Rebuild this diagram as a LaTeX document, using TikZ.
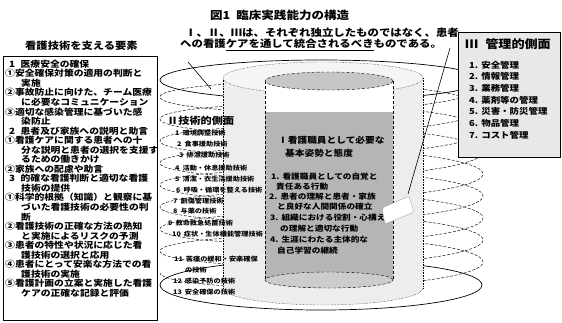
\documentclass[tikz,border=0pt]{standalone}
\usepackage{fontspec}
\newfontfamily\jp[FakeStretch=1.14]{Noto Sans CJK JP}
\newcommand\lhead[2]{\hspace*{4pt}#1\hspace*{5.5pt}#2}
\newcommand\lcont{\hspace*{16pt}}
\begin{document}
\begin{tikzpicture}[x=1pt,y=-1pt,
  jpt/.style={inner sep=0pt, anchor=west, font=\jp\bfseries\fontsize{#1}{#1}\selectfont},
  ring/.style={line width=0.7pt},
  helixline/.style={dash pattern=on 3pt off 1.6pt, line width=0.45pt},
]
\useasboundingbox (0,0) rectangle (562,322);

% outer top ellipse
\draw[ring] (321,80) ellipse[x radius=161pt, y radius=20pt];
% helix (technical aspect)
\draw[helixline] plot[domain=0:3060,samples=700,variable=\t]
  ({321.5+161.5*cos(\t)},{86+\t/360*22+20*sin(\t)});
% outer bottom ellipse back arc
\draw[ring] (160,285) arc[start angle=180,end angle=0,x radius=161pt,y radius=25pt];

% middle cylinder
\path[fill=gray!14] (223,78) -- (223,288) arc[start angle=180,end angle=360,x radius=100pt,y radius=17pt]
  -- (423,78) arc[start angle=0,end angle=180,x radius=100pt,y radius=16pt] -- cycle;
\draw[densely dotted, line width=0.6pt] (223,78) -- (223,288);
\draw[densely dotted, line width=0.6pt] (423,78) -- (423,288);
\draw[densely dotted, fill=gray!8] (323,78) ellipse[x radius=100pt, y radius=16pt];
\draw[densely dotted] (223,288) arc[start angle=180,end angle=360,x radius=100pt,y radius=17pt];

% outer bottom ellipse front arc
\draw[ring] (160,285) arc[start angle=180,end angle=360,x radius=161pt,y radius=25pt];

% inner cylinder
\path[fill=gray!58] (265,112) -- (265,280) arc[start angle=180,end angle=360,x radius=64pt,y radius=8pt]
  -- (393,112) -- cycle;
\path[fill=white] (265,81) rectangle (393,112);
\draw[densely dashed] (265,81) -- (265,280);
\draw[densely dashed] (393,81) -- (393,280);
\draw[densely dashed, fill=gray!45] (329,81) ellipse[x radius=64pt, y radius=9pt];
\draw[densely dashed, fill=gray!40] (329,280) ellipse[x radius=64pt, y radius=8pt];

% I text
\node[jpt=8.5] (i1) at (278,140) {Ⅰ看護職員として必要な};
\node[jpt=8.5] (i2) at (285,153) {基本姿勢と態度};
\node[jpt=7.6] (i3) at (271,177) {1.\hspace{3pt}看護職員としての自覚と};
\node[jpt=7.6] (i4) at (276,187) {責任ある行動};
\node[jpt=7.6] (i5) at (269,197) {2.\hspace{3pt}患者の理解と患者・家族};
\node[jpt=7.6] (i6) at (277,207) {と良好な人間関係の確立};
\node[jpt=7.6] (i7) at (270,218) {3.\hspace{3pt}組織における役割・心構え};
\node[jpt=7.6] (i8) at (280,229) {の理解と適切な行動};
\node[jpt=7.6] (i9) at (270,240) {4.\hspace{3pt}生涯にわたる主体的な};
\node[jpt=7.6] (i10) at (277,251) {自己学習の継続};

% II text
\node[jpt=9.8] (t0) at (167,121) {Ⅱ技術的側面};
\foreach \xx/\yy/\tx [count=\k] in {
  175/133/{1\hspace{3pt}環境調整技術},
  177/144/{2\hspace{3pt}食事援助技術},
  179/155/{3\hspace{3pt}排泄援助技術},
  175/168/{4\hspace{3pt}活動・休息援助技術},
  175/179/{5\hspace{3pt}清潔・衣生活援助技術},
  176/190/{6\hspace{3pt}呼吸・循環を整える技術},
  173/201/{7\hspace{3pt}創傷管理技術},
  173/211/{8\hspace{3pt}与薬の技術},
  168/223/{9\hspace{3pt}救命救急処置技術},
  172/234/{10\hspace{3pt}症状・生体機能管理技術},
  174/259/{11\hspace{3pt}苦痛の緩和・安楽確保},
  185/270/{の技術},
  173/281/{12\hspace{3pt}感染予防の技術},
  173/292/{13\hspace{3pt}安全確保の技術}}
  \node[jpt=6.3] (t\k) at (\xx,\yy) {\tx};

% leaders
\coordinate (la) at (188,62);
\coordinate (lb) at (211,89);
\draw[line width=0.6pt] (la) -- (lb);
\coordinate (ra) at (450,48);
\coordinate (rb) at (408,194);
\draw[line width=0.6pt] (ra) -- (rb);
\draw[fill=white, draw=gray!70, line width=0.4pt, rounded corners=2pt]
  (382,208) -- (409,196) -- (414,212) -- (385,224) -- cycle;

% left box
\draw[line width=0.7pt, fill=white] (3,56) rectangle (157,320);
\node[jpt=9.9] (lt) at (25,46) {看護技術を支える要素};
\foreach \tx [count=\k from 0] in {
  {\lhead{1}{医療安全の確保}},
  {①安全確保対策の適用の判断と},
  {\lcont 実施},
  {②事故防止に向けた、チーム医療},
  {\lcont に必要なコミュニケーション},
  {③適切な感染管理に基づいた感},
  {\lcont 染防止},
  {\lhead{2}{患者及び家族への説明と助言}},
  {①看護ケアに関する患者への十},
  {\lcont 分な説明と患者の選択を支援す},
  {\lcont るための働きかけ},
  {②家族への配慮や助言},
  {\lhead{3}{的確な看護判断と適切な看護}},
  {\lcont 技術の提供},
  {①科学的根拠（知識）と観察に基},
  {\lcont づいた看護技術の必要性の判},
  {\lcont 断},
  {②看護技術の正確な方法の熟知},
  {\lcont と実施によるリスクの予測},
  {③患者の特性や状況に応じた看},
  {\lcont 護技術の選択と応用},
  {④患者にとって安楽な方法での看},
  {\lcont 護技術の実施},
  {⑤看護計画の立案と実施した看護},
  {\lcont ケアの正確な記録と評価}}
  \node[jpt=8.6] (l\k) at (5,64+9.55*\k) {\tx};

% III box
\draw[line width=0.6pt, fill=gray!18] (458,32) rectangle (560,157);
\node[jpt=11.5] (m0) at (465,44) {Ⅲ\hspace{7pt}管理的側面};
\foreach \tx [count=\k from 0] in {
  {1.\hspace{3pt}安全管理},{2.\hspace{3pt}情報管理},{3.\hspace{3pt}業務管理},
  {4.\hspace{3pt}薬剤等の管理},{5.\hspace{3pt}災害・防災管理},{6.\hspace{3pt}物品管理},
  {7.\hspace{3pt}コスト管理}}
  \node[jpt=8.3] (m\k x) at (469,65+11.7*\k) {\tx};

% titles
\node[jpt=11] (title) at (210,15) {図1\hspace{6pt}臨床実践能力の構造};
\node[jpt=10] (c1) at (185,33) {Ⅰ、Ⅱ、Ⅲは、それぞれ独立したものではなく、患者};
\node[jpt=10] (c2) at (180,45) {への看護\underline{ケアを通して統合されるべき}ものである。};
\end{tikzpicture}
\end{document}
